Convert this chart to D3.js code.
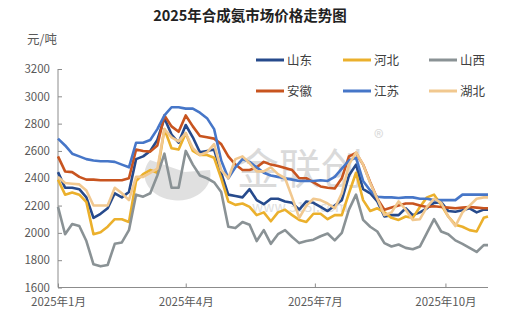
<!DOCTYPE html>
<html><head><meta charset="utf-8">
<script src="https://cdn.jsdelivr.net/npm/d3@7"></script>
<style>
html,body{margin:0;padding:0;background:#fff;}
svg{display:block;font-family:"Noto Sans CJK SC","Noto Sans",sans-serif;}
</style></head>
<body><svg id="c" width="520" height="336"></svg>
<script>
const dates = ["2025-01-01","2025-01-06","2025-01-11","2025-01-16","2025-01-21","2025-01-26","2025-01-31",
"2025-02-05","2025-02-10","2025-02-15","2025-02-20","2025-02-25",
"2025-03-02","2025-03-07","2025-03-12","2025-03-17","2025-03-22","2025-03-27",
"2025-04-01","2025-04-06","2025-04-11","2025-04-16","2025-04-21","2025-04-26",
"2025-05-01","2025-05-06","2025-05-11","2025-05-16","2025-05-21","2025-05-26","2025-05-31",
"2025-06-05","2025-06-10","2025-06-15","2025-06-20","2025-06-25","2025-06-30",
"2025-07-05","2025-07-10","2025-07-15","2025-07-20","2025-07-25","2025-07-30",
"2025-08-04","2025-08-09","2025-08-14","2025-08-19","2025-08-24","2025-08-29",
"2025-09-03","2025-09-08","2025-09-13","2025-09-18","2025-09-23","2025-09-28",
"2025-10-03","2025-10-08","2025-10-13","2025-10-18","2025-10-23","2025-10-28","2025-10-31"];

const seriesNames = ["山东","河北","山西","安徽","江苏","湖北"];
const shandong = [2445,2330,2330,2320,2260,2110,2140,2180,2290,2260,2300,2540,2560,2600,2680,2840,2720,2660,2790,2700,2590,2600,2610,2440,2280,2270,2260,2320,2240,2210,2250,2250,2230,2220,2170,2230,2220,2190,2160,2200,2240,2420,2500,2320,2290,2230,2120,2130,2130,2180,2130,2150,2180,2220,2225,2160,2155,2165,2180,2150,2170,2170];
const hebei = [2390,2280,2295,2280,2225,1990,2005,2045,2100,2100,2080,2380,2430,2460,2440,2760,2620,2610,2730,2600,2570,2570,2550,2400,2230,2205,2215,2190,2130,2150,2085,2150,2170,2130,2095,2080,2140,2140,2100,2130,2130,2290,2440,2240,2160,2180,2150,2110,2095,2120,2110,2190,2260,2280,2205,2120,2060,2045,2020,2010,2110,2120];
const shanxi = [2190,1990,2065,2050,1940,1770,1755,1765,1920,1930,2020,2280,2265,2290,2420,2580,2330,2330,2600,2500,2420,2400,2370,2300,2045,2035,2080,2060,1940,2020,1920,1990,2020,1970,1925,1940,1950,1975,1995,1945,2000,2170,2280,2095,2045,2010,1925,1900,1915,1890,1880,1900,2000,2100,2010,1990,1945,1920,1890,1860,1910,1910];
const anhui = [2560,2450,2445,2410,2390,2390,2385,2385,2385,2385,2400,2610,2600,2595,2640,2860,2780,2740,2860,2780,2710,2700,2690,2650,2560,2500,2460,2460,2480,2520,2500,2490,2475,2460,2400,2400,2370,2340,2330,2325,2400,2560,2585,2500,2370,2250,2170,2185,2200,2215,2215,2200,2190,2195,2190,2185,2180,2185,2190,2185,2180,2180];
const jiangsu = [2690,2640,2580,2560,2540,2530,2525,2525,2520,2500,2480,2660,2660,2680,2760,2860,2920,2920,2910,2910,2880,2840,2760,2530,2400,2480,2540,2520,2480,2440,2420,2410,2400,2390,2380,2380,2380,2385,2380,2410,2470,2530,2550,2380,2310,2265,2260,2260,2255,2260,2260,2250,2250,2240,2240,2240,2240,2280,2280,2280,2280,2280];
const hubei = [2410,2365,2360,2355,2310,2200,2200,2200,2330,2290,2240,2410,2410,2440,2470,2760,2700,2670,2730,2620,2570,2590,2650,2460,2400,2540,2560,2510,2450,2450,2480,2430,2400,2260,2110,2200,2250,2240,2215,2180,2290,2500,2590,2500,2365,2250,2130,2150,2230,2170,2095,2100,2190,2250,2220,2120,2050,2150,2200,2250,2260,2260];
const yTicks = [1600,1800,2000,2200,2400,2600,2800,3000,3200];
const xTickDates = ["2025-01-01","2025-04-01","2025-07-01","2025-10-01"];
const xTickLabels = ["2025年1月","2025年4月","2025年7月","2025年10月"];

const colors = ["#264a8c","#ebb02c","#8a9295","#c8541f","#4676c8","#f1c88f"];
const allValues = [shandong,hebei,shanxi,anhui,jiangsu,hubei];

const parse = d3.timeParse("%Y-%m-%d");
const svg = d3.select("#c");
const x = d3.scaleTime().domain([parse("2025-01-01"), parse("2025-10-31")]).range([58, 488]);
const y = d3.scaleLinear().domain([1600, 3200]).range([287.5, 69]);

// title
svg.append("text").attr("x", 250).attr("y", 21).attr("text-anchor","middle")
  .attr("font-size", 14.5).attr("font-weight","bold").attr("fill","#222")
  .text("2025年合成氨市场价格走势图");
svg.append("text").attr("x", 27).attr("y", 44).attr("font-size", 12.5).attr("fill","#595959").text("元/吨");

// watermark
const wm = svg.append("g").attr("opacity", 0.55);
wm.append("path").attr("d","M150,160 A33,26 0 1,0 210,170 L185,172 Z").attr("fill","#c8c8c8");
wm.append("text").attr("x", 300).attr("y", 184).attr("text-anchor","middle").attr("font-size", 42)
  .attr("fill","#bdbdbd").text("金联创");
wm.append("text").attr("x", 374).attr("y", 145).attr("font-size", 20).attr("fill","#bdbdbd").text("®");
wm.append("text").attr("x", 252).attr("y", 212).attr("font-size", 14).attr("fill","#c4c4c4").text("www.315i.com");

// axes
const axisColor = "#8c8c8c";
const gy = svg.append("g").attr("transform","translate(58,0)")
  .call(d3.axisLeft(y).tickValues(yTicks).tickSize(-4).tickPadding(8).tickFormat(d3.format("d")));
const gx = svg.append("g").attr("transform","translate(0,287.5)")
  .call(d3.axisBottom(x).tickValues(xTickDates.map(parse)).tickSize(-4).tickPadding(10)
    .tickFormat((d,i)=>xTickLabels[i]));
[gy,gx].forEach(g=>{
  g.select(".domain").attr("stroke", axisColor);
  g.selectAll(".tick line").attr("stroke", axisColor);
  g.selectAll(".tick text").attr("fill","#595959").attr("font-size", 11.5)
    .attr("font-family","\"Noto Sans CJK SC\",\"Noto Sans\",sans-serif");
});
gy.select(".domain").attr("d","M0,287.5V69");
gx.select(".domain").attr("d","M58,0H488");

// lines
const line = d3.line().x((d,i)=>x(parse(dates[i]))).y(d=>y(d));
allValues.forEach((vals,k)=>{
  svg.append("path").datum(vals).attr("d", line).attr("fill","none")
    .attr("stroke", colors[k]).attr("stroke-width", 2.6).attr("stroke-linejoin","round");
});

// legend
const legX = [256, 343, 429], legY = [60, 91];
seriesNames.forEach((n,k)=>{
  const lx = legX[k%3], ly = legY[Math.floor(k/3)];
  svg.append("line").attr("x1", lx).attr("x2", lx+28).attr("y1", ly).attr("y2", ly)
    .attr("stroke", colors[k]).attr("stroke-width", 3);
  svg.append("text").attr("x", lx+31).attr("y", ly+4.5).attr("font-size", 12.5).attr("fill","#404040").text(n);
});
</script></body></html>
